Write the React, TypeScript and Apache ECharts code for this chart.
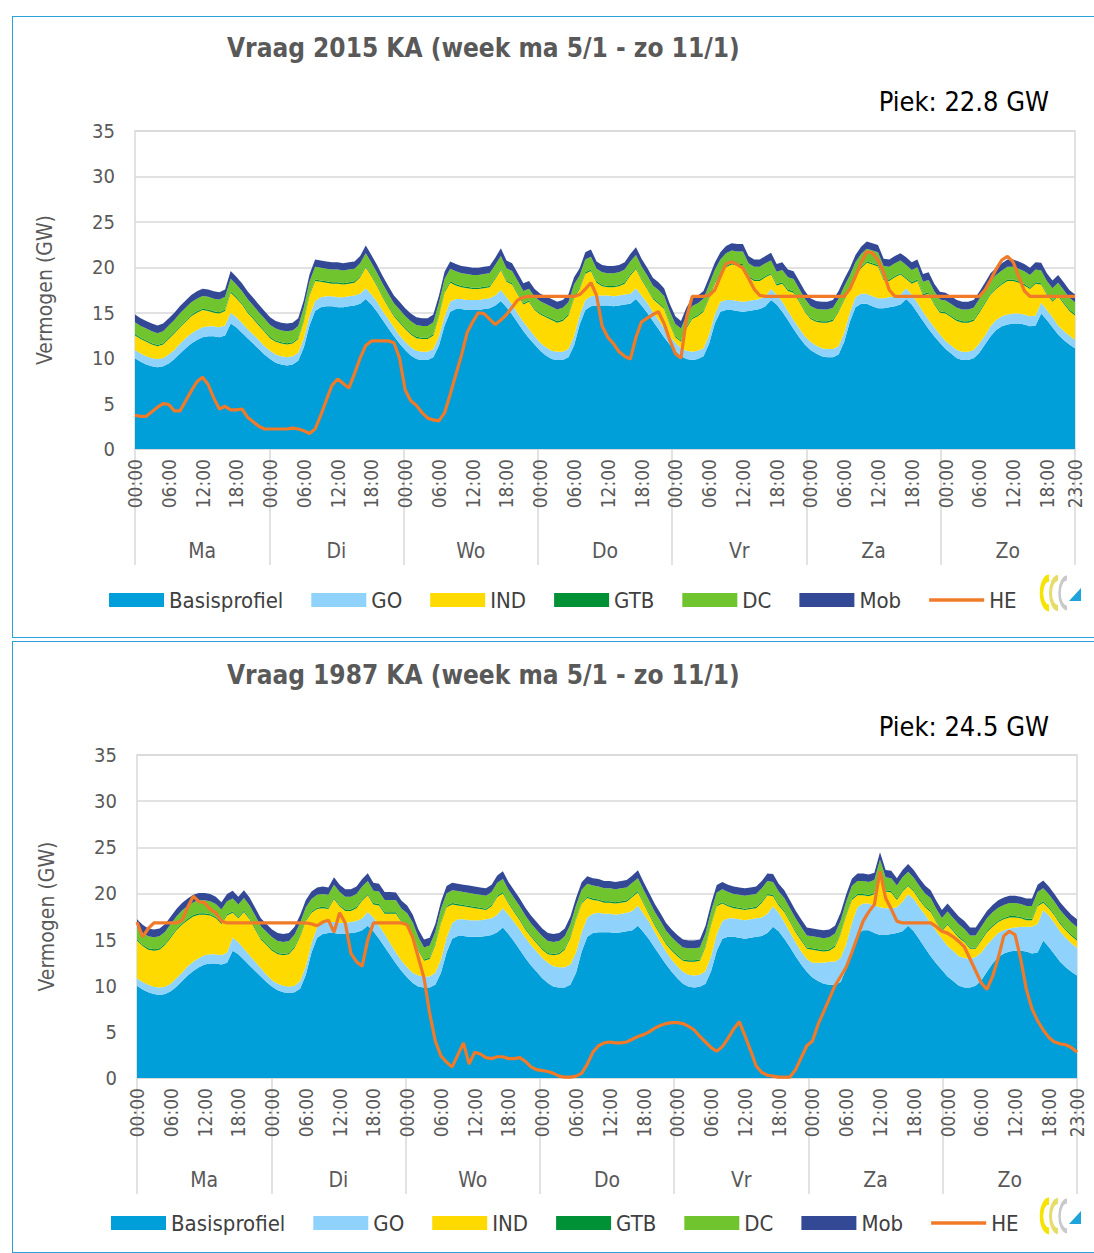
import React, { useEffect, useRef } from "react";
import * as echarts from "echarts";

const days = ["Ma", "Di", "Wo", "Do", "Vr", "Za", "Zo"];
const hourLabels = ["00:00","01:00","02:00","03:00","04:00","05:00","06:00","07:00","08:00","09:00","10:00","11:00","12:00","13:00","14:00","15:00","16:00","17:00","18:00","19:00","20:00","21:00","22:00","23:00"];
const seriesNames = ["Basisprofiel", "GO", "IND", "GTB", "DC", "Mob", "HE"];
const titles = ["Vraag 2015 KA (week ma 5/1 - zo 11/1)", "Vraag 1987 KA (week ma 5/1 - zo 11/1)"];
const peaks = ["Piek: 22.8 GW", "Piek: 24.5 GW"];

// shared basis profile (GW), hourly Ma..Zo
const basis = [
  10.0,9.6,9.3,9.1,9.0,9.1,9.4,9.9,10.5,11.1,11.6,12.0,12.3,12.4,12.4,12.3,12.5,13.8,13.4,12.8,12.2,11.6,11.0,10.4,
  9.9,9.5,9.3,9.2,9.3,9.7,11.2,13.6,15.2,15.6,15.7,15.7,15.6,15.6,15.7,15.8,16.0,16.5,15.9,15.1,14.2,13.3,12.4,11.6,
  10.9,10.3,9.9,9.8,9.8,10.1,11.4,13.6,15.1,15.4,15.4,15.3,15.3,15.3,15.4,15.5,15.8,16.3,15.6,14.8,13.9,13.0,12.2,11.5,
  10.8,10.3,9.9,9.8,9.8,10.1,11.4,13.7,15.3,15.7,15.8,15.8,15.8,15.7,15.8,15.9,16.0,16.5,15.8,15.0,14.1,13.2,12.3,11.5,
  10.8,10.2,9.9,9.8,9.9,10.2,11.6,13.8,15.1,15.3,15.3,15.2,15.1,15.2,15.3,15.4,15.7,16.4,15.9,15.1,14.2,13.2,12.3,11.5,
  10.9,10.5,10.2,10.1,10.1,10.4,11.8,14.0,15.6,16.0,16.0,15.7,15.5,15.5,15.6,15.7,15.9,16.5,15.9,15.0,14.1,13.2,12.4,11.7,
  11.0,10.5,10.0,9.8,9.8,10.0,10.6,11.5,12.4,13.1,13.5,13.7,13.8,13.8,13.7,13.5,13.6,14.9,14.2,13.4,12.6,12.0,11.5,11.1,
];

const gtb = [
  0.15,0.15,0.15,0.15,0.15,0.15,0.15,0.15,0.15,0.15,0.15,0.15,0.15,0.15,0.15,0.15,0.15,0.15,0.15,0.15,0.15,0.15,0.15,0.15,
  0.15,0.15,0.15,0.15,0.15,0.15,0.15,0.15,0.15,0.15,0.15,0.15,0.15,0.15,0.15,0.15,0.15,0.15,0.15,0.15,0.15,0.15,0.15,0.15,
  0.15,0.15,0.15,0.15,0.15,0.15,0.15,0.15,0.15,0.15,0.15,0.15,0.15,0.15,0.15,0.15,0.15,0.15,0.15,0.15,0.15,0.15,0.15,0.15,
  0.15,0.15,0.15,0.15,0.15,0.15,0.15,0.15,0.15,0.15,0.15,0.15,0.15,0.15,0.15,0.15,0.15,0.15,0.15,0.15,0.15,0.15,0.15,0.15,
  0.15,0.15,0.15,0.15,0.15,0.15,0.15,0.15,0.15,0.15,0.15,0.15,0.15,0.15,0.15,0.15,0.15,0.15,0.15,0.15,0.15,0.15,0.15,0.15,
  0.15,0.15,0.15,0.15,0.15,0.15,0.15,0.15,0.15,0.15,0.15,0.15,0.15,0.15,0.15,0.15,0.15,0.15,0.15,0.15,0.15,0.15,0.15,0.15,
  0.15,0.15,0.15,0.15,0.15,0.15,0.15,0.15,0.15,0.15,0.15,0.15,0.15,0.15,0.15,0.15,0.15,0.15,0.15,0.15,0.15,0.15,0.15,0.15,
];

const dc = [
  1.3,1.3,1.3,1.3,1.3,1.3,1.35,1.35,1.4,1.4,1.4,1.4,1.4,1.4,1.4,1.4,1.4,1.4,1.35,1.35,1.35,1.35,1.3,1.3,
  1.3,1.3,1.3,1.3,1.3,1.3,1.35,1.35,1.4,1.4,1.4,1.4,1.4,1.4,1.4,1.4,1.4,1.4,1.35,1.35,1.35,1.35,1.3,1.3,
  1.3,1.3,1.3,1.3,1.3,1.3,1.35,1.35,1.4,1.4,1.4,1.4,1.4,1.4,1.4,1.4,1.4,1.4,1.35,1.35,1.35,1.35,1.3,1.3,
  1.3,1.3,1.3,1.3,1.3,1.3,1.35,1.35,1.4,1.4,1.4,1.4,1.4,1.4,1.4,1.4,1.4,1.4,1.35,1.35,1.35,1.35,1.3,1.3,
  1.3,1.3,1.3,1.3,1.3,1.3,1.35,1.35,1.4,1.4,1.4,1.4,1.4,1.4,1.4,1.4,1.4,1.4,1.35,1.35,1.35,1.35,1.3,1.3,
  1.3,1.3,1.3,1.3,1.3,1.3,1.35,1.35,1.4,1.4,1.4,1.4,1.4,1.4,1.4,1.4,1.4,1.4,1.35,1.35,1.35,1.35,1.3,1.3,
  1.3,1.3,1.3,1.3,1.3,1.3,1.35,1.35,1.4,1.4,1.4,1.4,1.4,1.4,1.4,1.4,1.4,1.4,1.35,1.35,1.35,1.35,1.3,1.3,
];

const mob = [
  0.85,0.85,0.85,0.85,0.85,0.85,0.8,0.8,0.8,0.8,0.8,0.8,0.8,0.8,0.8,0.8,0.8,0.85,0.85,0.85,0.85,0.85,0.85,0.85,
  0.85,0.85,0.85,0.85,0.85,0.85,0.8,0.8,0.8,0.8,0.8,0.8,0.8,0.8,0.8,0.8,0.8,0.85,0.85,0.85,0.85,0.85,0.85,0.85,
  0.85,0.85,0.85,0.85,0.85,0.85,0.8,0.8,0.8,0.8,0.8,0.8,0.8,0.8,0.8,0.8,0.8,0.85,0.85,0.85,0.85,0.85,0.85,0.85,
  0.85,0.85,0.85,0.85,0.85,0.85,0.8,0.8,0.8,0.8,0.8,0.8,0.8,0.8,0.8,0.8,0.8,0.85,0.85,0.85,0.85,0.85,0.85,0.85,
  0.85,0.85,0.85,0.85,0.85,0.85,0.8,0.8,0.8,0.8,0.8,0.8,0.8,0.8,0.8,0.8,0.8,0.85,0.85,0.85,0.85,0.85,0.85,0.85,
  0.85,0.85,0.85,0.85,0.85,0.85,0.8,0.8,0.8,0.8,0.8,0.8,0.8,0.8,0.8,0.8,0.8,0.85,0.85,0.85,0.85,0.85,0.85,0.85,
  0.85,0.85,0.85,0.85,0.85,0.85,0.8,0.8,0.8,0.8,0.8,0.8,0.8,0.8,0.8,0.8,0.8,0.85,0.85,0.85,0.85,0.85,0.85,0.85,
];

// ---- 2015 ----
const go2015 = [
  0.9,0.9,0.9,0.9,0.9,0.9,1.0,1.0,1.1,1.1,1.1,1.1,1.1,1.1,1.1,1.1,1.1,1.2,1.1,1.1,1.0,1.0,1.0,0.9,
  0.9,0.9,0.9,0.9,0.9,0.9,1.0,1.0,1.1,1.1,1.1,1.1,1.1,1.1,1.1,1.1,1.1,1.2,1.1,1.1,1.0,1.0,1.0,0.9,
  0.9,0.9,0.9,0.9,0.9,0.9,1.0,1.0,1.1,1.1,1.1,1.1,1.1,1.1,1.1,1.1,1.1,1.2,1.1,1.1,1.0,1.0,1.0,0.9,
  0.9,0.9,0.9,0.9,0.9,0.9,1.0,1.0,1.1,1.1,1.1,1.1,1.1,1.1,1.1,1.1,1.1,1.2,1.1,1.1,1.0,1.0,1.0,0.9,
  0.9,0.9,0.9,0.9,0.9,0.9,1.0,1.0,1.1,1.1,1.1,1.1,1.1,1.1,1.1,1.1,1.1,1.2,1.1,1.1,1.0,1.0,1.0,0.9,
  0.9,0.9,0.9,0.9,0.9,0.9,1.0,1.0,1.1,1.1,1.1,1.1,1.1,1.1,1.1,1.1,1.1,1.2,1.1,1.1,1.0,1.0,1.0,0.9,
  0.9,0.9,0.9,0.9,0.9,0.9,1.0,1.0,1.1,1.1,1.1,1.1,1.1,1.1,1.1,1.1,1.1,1.2,1.1,1.1,1.0,1.0,1.0,0.9,
];
const ind2015 = [
  1.6,1.6,1.6,1.5,1.4,1.5,1.7,1.8,1.8,1.8,1.9,1.9,1.9,1.7,1.5,1.5,1.6,2.2,2.1,2.0,1.8,1.7,1.6,1.6,
  1.4,1.4,1.4,1.4,1.4,1.5,1.9,2.3,2.2,1.7,1.5,1.4,1.5,1.4,1.4,1.4,1.8,2.3,2.0,1.7,1.5,1.3,1.2,1.4,
  1.4,1.4,1.4,1.4,1.4,1.5,2.2,2.6,2.1,1.5,1.3,1.3,1.2,1.2,1.2,1.2,1.8,2.2,1.7,2.2,2.1,1.9,3.0,2.9,
  3.1,3.3,3.4,3.2,3.4,3.7,4.2,2.9,2.9,2.8,1.4,1.0,0.9,1.0,1.0,1.2,2.0,2.1,1.7,1.5,1.4,1.8,2.1,1.3,
  0.6,0.7,2.5,3.6,3.8,4.0,4.0,3.4,3.1,3.6,3.9,3.9,4.0,2.6,2.1,2.0,2.1,1.6,1.0,2.0,2.2,3.0,2.9,2.7,
  2.5,2.6,2.8,2.9,3.1,3.8,3.6,2.6,2.3,2.8,3.4,3.5,3.5,2.0,1.8,2.1,2.2,1.0,1.2,2.4,1.8,2.9,2.5,2.4,
  3.0,3.1,3.2,3.2,3.2,3.2,3.4,3.5,3.5,3.4,3.5,3.7,3.6,3.4,3.2,3.0,3.5,2.0,1.7,1.7,3.2,3.0,2.7,2.7,
];
const he2015 = [
  3.7,3.6,3.6,4.1,4.6,5.0,4.9,4.2,4.2,5.3,6.4,7.4,7.9,7.1,5.6,4.4,4.7,4.3,4.3,4.4,3.5,3.0,2.5,2.2,
  2.2,2.2,2.2,2.2,2.3,2.2,2.0,1.7,2.2,3.7,5.4,7.0,7.7,7.2,6.7,8.3,10.0,11.4,11.9,11.9,11.9,11.9,11.7,10.0,
  6.5,5.3,4.8,4.0,3.4,3.2,3.1,4.0,6.0,8.2,10.3,12.8,14.0,15.0,14.9,14.3,13.7,14.2,14.8,15.6,16.4,16.7,16.8,16.8,
  16.8,16.8,16.8,16.8,16.8,16.8,16.8,17.0,17.6,18.3,16.9,13.5,12.3,11.6,10.7,10.2,9.9,12.3,14.0,14.4,14.8,15.1,13.8,12.0,
  10.5,10.0,14.5,16.8,16.8,16.8,16.9,17.5,19.0,20.4,20.6,20.3,19.9,18.8,17.6,16.9,16.8,16.8,16.8,16.8,16.8,16.8,16.8,16.8,
  16.8,16.8,16.8,16.8,16.8,16.8,16.8,17.6,19.0,20.5,21.7,21.6,20.8,19.4,17.5,16.8,16.8,16.8,16.8,16.8,16.8,16.8,16.8,16.8,
  16.8,16.8,16.8,16.8,16.8,16.8,16.8,17.5,18.6,19.8,20.8,21.2,20.6,19.0,17.4,16.8,16.8,16.8,16.8,16.8,16.8,16.8,16.8,16.8,
];

// ---- 1987 ----
const go1987 = [
  0.8,0.8,0.8,0.8,0.8,0.8,0.8,0.9,0.9,1.0,1.0,1.0,1.0,1.0,1.0,1.0,1.1,1.4,1.3,1.2,1.1,1.0,0.9,0.8,
  0.7,0.7,0.7,0.7,0.7,0.8,0.9,1.0,1.1,1.2,1.2,1.2,1.2,1.2,1.2,1.2,1.3,1.5,1.5,1.4,1.4,1.3,1.2,1.1,
  1.1,1.1,1.2,1.2,1.2,1.3,1.4,1.6,1.7,1.8,1.8,1.8,1.8,1.8,1.8,1.8,1.9,2.1,2.1,2.1,2.2,2.2,2.2,2.2,
  2.2,2.2,2.2,2.2,2.2,2.2,2.2,2.1,2.1,2.1,2.1,2.0,2.0,2.0,2.0,2.0,2.1,2.2,2.0,1.9,1.7,1.5,1.4,1.3,
  1.3,1.3,1.3,1.3,1.3,1.4,1.6,1.8,1.9,2.0,2.0,2.0,2.0,2.0,2.0,2.0,2.1,2.2,2.0,1.8,1.6,1.5,1.4,1.4,
  1.6,2.0,2.3,2.5,2.5,2.6,2.7,2.8,2.9,2.9,2.9,3.0,3.0,2.9,2.8,2.8,3.2,3.4,3.5,3.5,3.6,3.6,3.5,3.4,
  3.3,3.3,3.2,3.2,3.1,3.1,3.0,2.9,2.7,2.6,2.5,2.5,2.5,2.6,2.7,2.9,3.1,3.3,3.4,3.4,3.3,3.2,3.1,3.0,
];
const ind1987 = [
  4.1,3.9,3.8,3.9,4.1,4.5,5.0,5.2,5.2,5.0,4.9,4.7,4.4,4.2,3.9,3.4,4.0,2.7,2.6,4.0,3.9,3.5,3.1,3.2,
  3.2,3.2,3.3,3.5,4.1,4.9,4.9,3.3,2.0,1.6,1.4,2.5,1.8,1.3,1.2,1.4,1.9,1.8,1.4,2.2,2.2,3.2,4.2,4.2,
  4.4,4.0,2.7,1.7,1.9,3.0,4.0,3.3,2.0,1.5,1.4,1.4,1.3,1.2,1.0,1.3,1.9,1.6,1.2,1.1,1.0,0.9,0.9,0.9,
  0.9,0.9,1.2,1.4,1.9,2.9,3.6,3.1,2.1,1.5,1.3,1.2,1.2,1.2,1.2,1.2,1.5,1.4,1.1,0.8,0.7,0.8,0.8,1.0,
  1.1,1.2,1.4,1.5,1.5,2.6,3.4,3.0,1.9,1.3,1.1,1.1,1.1,1.1,1.1,1.6,2.0,1.1,0.8,1.1,1.1,1.1,1.2,1.1,
  1.4,1.3,1.2,1.2,1.6,2.6,3.1,2.5,1.3,0.9,0.8,1.2,3.6,1.8,1.7,0.8,1.1,0.9,0.8,0.8,0.8,1.2,1.0,0.8,
  2.3,2.1,2.0,1.7,1.1,0.9,1.3,1.4,1.3,1.2,1.2,1.2,1.1,0.9,0.7,0.7,1.9,0.8,0.8,0.8,0.8,0.8,0.8,0.8,
];
const he1987 = [
  16.9,15.3,16.2,16.8,16.8,16.8,16.8,16.8,17.1,18.5,19.7,19.1,19.0,18.3,17.9,17.0,16.8,16.8,16.8,16.8,16.8,16.8,16.8,16.8,
  16.8,16.8,16.8,16.8,16.8,16.8,16.8,16.7,16.5,16.9,17.1,15.8,17.9,16.8,13.5,12.6,12.1,15.0,16.8,16.8,16.8,16.8,16.8,16.8,
  16.6,15.2,13.0,10.8,7.0,4.0,2.4,1.7,1.2,2.5,3.8,1.5,2.8,2.6,2.2,2.1,2.3,2.3,2.1,2.1,2.2,1.8,1.2,0.9,
  0.8,0.7,0.5,0.2,0.1,0.1,0.2,0.5,1.5,2.8,3.5,3.8,3.9,3.8,3.8,3.9,4.2,4.5,4.7,5.0,5.4,5.7,5.9,6.0,
  6.0,5.9,5.6,5.2,4.5,3.9,3.3,2.9,3.4,4.3,5.3,6.1,4.6,3.0,1.3,0.6,0.3,0.2,0.1,0.1,0.1,0.9,2.2,3.5,
  4.0,5.8,7.2,8.6,10.0,11.0,12.0,13.6,15.3,17.0,18.0,18.8,22.4,19.5,18.3,17.0,16.8,16.8,16.8,16.8,16.8,16.8,16.4,15.9,
  15.7,15.3,14.8,14.2,12.9,11.6,10.3,9.6,11.0,13.0,15.4,15.9,15.5,12.9,9.6,7.5,6.2,5.2,4.4,3.9,3.7,3.6,3.3,2.8,
];

const colors = ["#009fda", "#8fd3fd", "#ffda00", "#009036", "#70c42e", "#334995", "#f07a28"];
const FONT = "'DejaVu Sans Condensed', 'Liberation Sans Narrow', 'DejaVu Sans', sans-serif";
const GRAY = "#595959";
const GRID_LINE = "#d9d9d9";

const categories = days.flatMap((d) => hourLabels.map((h) => d + " " + h));

const grids = [
  { left: 135, top: 131, width: 940, height: 318 },
  { left: 137, top: 755, width: 940, height: 323 },
];
const titleTops = [30, 657];
const peakTops = [83, 708];
const legendTops = [584, 1207];
const legendLefts = [104, 106];

const chartData = [
  { layers: [basis, go2015, ind2015, gtb, dc, mob], he: he2015 },
  { layers: [basis, go1987, ind1987, gtb, dc, mob], he: he1987 },
];

function logo(x0: number, y0: number) {
  const arcShape = { cx: 0, cy: 0, r: 15, startAngle: Math.PI * 0.5, endAngle: Math.PI * 1.5 };
  return {
    type: "group",
    children: [
      { type: "arc", x: x0 + 13, y: y0 + 17, scaleX: 0.5, shape: arcShape, style: { stroke: "#f5e400", lineWidth: 7, fill: null } },
      { type: "arc", x: x0 + 22, y: y0 + 17, scaleX: 0.5, shape: arcShape, style: { stroke: "#e6dc6a", lineWidth: 6, fill: null } },
      { type: "arc", x: x0 + 31, y: y0 + 17, scaleX: 0.5, shape: arcShape, style: { stroke: "#c9c9c9", lineWidth: 5, fill: null } },
      { type: "polygon", shape: { points: [[x0 + 33, y0 + 25], [x0 + 45, y0 + 25], [x0 + 45, y0 + 12]] }, style: { fill: "#1fa3db" } },
    ],
  };
}

function buildOption() {
  const xAxis: any[] = [];
  const yAxis: any[] = [];
  const series: any[] = [];
  const legend: any[] = [];
  const title: any[] = [];
  grids.forEach((g, c) => {
    xAxis.push({
      type: "category",
      gridIndex: c,
      data: categories,
      boundaryGap: false,
      axisLine: { lineStyle: { color: GRID_LINE, width: 1.5 } },
      axisTick: { show: false },
      axisLabel: {
        interval: (i: number) => i % 6 === 0 || i === categories.length - 1,
        rotate: 90,
        margin: 10,
        fontSize: 19,
        color: GRAY,
        fontFamily: FONT,
        formatter: (v: string) => v.split(" ")[1],
      },
      splitLine: { show: false },
    });
    xAxis.push({
      type: "category",
      gridIndex: c,
      data: days,
      position: "bottom",
      axisLine: { show: false },
      axisTick: { show: true, interval: 0, length: 116, lineStyle: { color: GRID_LINE, width: 1.5 } },
      axisLabel: { interval: 0, margin: 91, fontSize: 21, color: GRAY, fontFamily: FONT },
      splitLine: { show: false },
    });
    yAxis.push({
      type: "value",
      gridIndex: c,
      min: 0,
      max: 35,
      interval: 5,
      axisLine: { show: false },
      axisTick: { show: false },
      axisLabel: { fontSize: 20, color: GRAY, margin: 20, fontFamily: FONT },
      splitLine: { lineStyle: { color: GRID_LINE, width: 1.5 } },
      name: "Vermogen (GW)",
      nameLocation: "middle",
      nameGap: 80,
      nameTextStyle: { fontSize: 21, color: GRAY, fontFamily: FONT },
    });
    const d = chartData[c];
    d.layers.forEach((arr, k) => {
      series.push({
        type: "line",
        name: seriesNames[k],
        xAxisIndex: c * 2,
        yAxisIndex: c,
        stack: "s" + c,
        data: arr,
        symbol: "none",
        color: colors[k],
        itemStyle: { color: colors[k] },
        lineStyle: { width: 0, color: colors[k] },
        areaStyle: { color: colors[k], opacity: 1 },
        emphasis: { disabled: true },
      });
    });
    series.push({
      type: "line",
      name: "HE",
      xAxisIndex: c * 2,
      yAxisIndex: c,
      data: d.he,
      symbol: "none",
      color: colors[6],
      itemStyle: { color: colors[6] },
      lineStyle: { width: 3.2, color: colors[6] },
      z: 10,
      emphasis: { disabled: true },
    });
    legend.push({
      left: legendLefts[c],
      top: legendTops[c],
      itemWidth: 55,
      itemHeight: 14,
      itemGap: 28,
      symbolKeepAspect: true,
      textStyle: { fontSize: 22, color: "#404040", fontFamily: FONT },
      data: seriesNames.map((n, k) =>
        k < 6 ? { name: n, icon: "rect" } : { name: n, icon: "path://M0,0 L55,0 L55,3.5 L0,3.5 Z" }
      ),
    });
    title.push({
      text: titles[c],
      left: 222,
      top: titleTops[c],
      textStyle: { fontSize: 26, fontWeight: "bold", color: GRAY, fontFamily: FONT },
    });
    title.push({
      text: peaks[c],
      right: 40,
      top: peakTops[c],
      textStyle: { fontSize: 27, fontWeight: "normal", color: "#000000", fontFamily: FONT },
    });
  });
  return {
    animation: false,
    textStyle: { fontFamily: FONT },
    title,
    legend,
    grid: grids.map((g) => ({ ...g, show: true, borderColor: GRID_LINE, borderWidth: 1.5, backgroundColor: "transparent" })),
    xAxis,
    yAxis,
    series,
    graphic: [logo(1036, 576), logo(1036, 1199)],
  };
}

export default function App() {
  const ref = useRef<HTMLDivElement>(null);
  useEffect(() => {
    if (!ref.current) return;
    const chart = echarts.init(ref.current, null, { renderer: "svg" });
    chart.setOption(buildOption() as any);
    return () => chart.dispose();
  }, []);
  const frame: React.CSSProperties = {
    position: "absolute",
    left: 12,
    width: 1100,
    border: "1.5px solid #2aa1da",
    boxSizing: "border-box",
  };
  return (
    <div style={{ position: "fixed", left: 0, top: 0, width: 1094, height: 1253, overflow: "hidden", background: "#fff" }}>
      <div style={{ ...frame, top: 16, height: 622 }} />
      <div style={{ ...frame, top: 641, height: 612 }} />
      <div ref={ref} style={{ position: "absolute", left: 0, top: 0, width: 1094, height: 1253 }} />
    </div>
  );
}
